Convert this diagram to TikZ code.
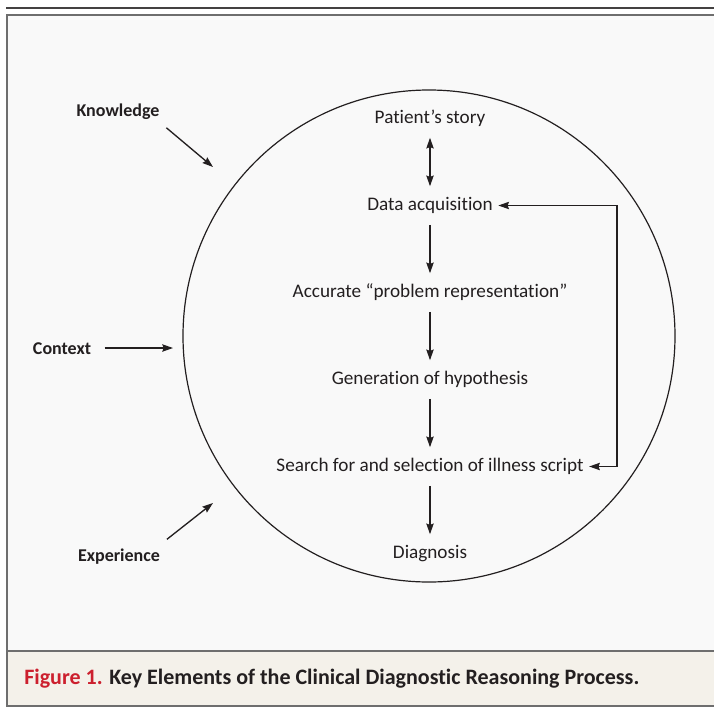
\documentclass[tikz,border=0pt]{standalone}
\usepackage{fontspec}
\setmainfont{Carlito}[Ligatures=NoCommon]
\usepackage{xcolor}
\usetikzlibrary{positioning,arrows.meta,calc}
\definecolor{inkgray}{RGB}{35, 31, 32}
\definecolor{framegray}{RGB}{110, 110, 110}
\definecolor{panelbg}{RGB}{249, 249, 249}
\definecolor{capbg}{RGB}{244, 241, 234}
\definecolor{figred}{RGB}{204, 32, 46}

\begin{document}
\begin{tikzpicture}[x=0.75pt, y=-0.75pt]
\tikzset{
  step box/.style={inner xsep=4pt, inner ysep=0pt, minimum height=28.5pt,
    font=\fontsize{14.4}{16}\selectfont, text=inkgray},
  side/.style={inner sep=2pt, font=\fontsize{13.5}{15}\selectfont\bfseries, text=inkgray},
  arr/.style={-{Stealth[length=8pt, width=5.5pt, inset=1pt]}, line width=1pt, draw=inkgray},
  darr/.style={{Stealth[length=8pt, width=5.5pt, inset=1pt]}-{Stealth[length=8pt, width=5.5pt, inset=1pt]}, line width=1pt, draw=inkgray}
}
\useasboundingbox (0,0) rectangle (714,707);
\clip (0,0) rectangle (714,707);
% frame and caption band
\fill[white] (0,0) rectangle (714,707);
\draw[line width=1.5pt, draw=inkgray!85] (6,8) -- (720,8);
\fill[panelbg] (7,15) rectangle (720,651);
\fill[capbg] (7,651) rectangle (720,706);
\draw[line width=1.5pt, draw=framegray] (720,15) -- (7,15) -- (7,706) -- (720,706);
\draw[line width=1.5pt, draw=framegray] (7,651) -- (720,651);
% reasoning circle
\draw[line width=0.9pt, draw=inkgray] (429,336) circle (246);
% steps
\node[step box] (story)  at (430,118.5) {Patient’s story};
\node[step box] (acq)    at (430,205.5) {Data acquisition};
\node[step box] (repr)   at (430,292.5) {Accurate “problem representation”};
\node[step box] (hypo)   at (430,379.5) {Generation of hypothesis};
\node[step box] (search) at (430,466.5) {Search for and selection of illness script};
\node[step box] (diag)   at (430,553.5) {Diagnosis};
\draw[darr] (story) -- (acq);
\draw[arr] (acq) -- (repr);
\draw[arr] (repr) -- (hypo);
\draw[arr] (hypo) -- (search);
\draw[arr] (search) -- (diag);
% feedback loop
\coordinate (loop) at (617,336);
\draw[darr] (acq.east) -- (acq.east -| loop) -- (search.east -| loop) -- (search.east);
% outside influences
\node[side] (knowledge)  at (118,112) {Knowledge};
\node[side] (context)    at (62,349)  {Context};
\node[side] (experience) at (119,557) {Experience};
\coordinate (ktip) at (213,167);
\coordinate (ctip) at (173,348);
\coordinate (etip) at (213,503);
\draw[arr] ([shift={(4,5)}]knowledge.south east) -- (ktip);
\draw[arr] ([xshift=8pt]context.east |- ctip) -- (ctip);
\draw[arr] ([shift={(4,-7)}]experience.north east) -- (etip);
% caption
\node[anchor=west, inner sep=0pt, font=\fontsize{16.5}{18}\selectfont\bfseries, text=inkgray] (caption) at (24,678.5)
  {{\color{figred}Figure 1.} Key Elements of the Clinical Diagnostic Reasoning Process.};
\end{tikzpicture}
\end{document}
